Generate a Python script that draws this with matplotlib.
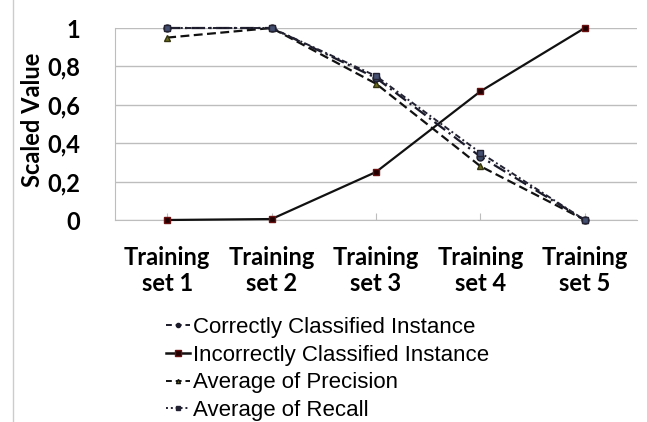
import numpy as np
import matplotlib.pyplot as plt
from matplotlib.lines import Line2D

# data
categories = ["Training\nset 1", "Training\nset 2", "Training\nset 3",
              "Training\nset 4", "Training\nset 5"]
correct = [1.0, 1.0, 0.74, 0.33, 0.0]
incorrect = [0.0, 0.005, 0.25, 0.67, 1.0]
precision = [0.95, 1.0, 0.71, 0.28, 0.0]
recall = [1.0, 1.0, 0.75, 0.35, 0.0]
labels = ["Correctly Classified Instance", "Incorrectly Classified Instance",
          "Average of Precision", "Average of Recall"]
yticks = [0, 0.2, 0.4, 0.6, 0.8, 1]
yticklabels = ["0", "0,2", "0,4", "0,6", "0,8", "1"]

fig = plt.figure(figsize=(6.47, 4.22), dpi=100)
ax = fig.add_axes([115/647, 1 - 220/422, 522/647, 192/422])

x = np.arange(len(categories))
ax.plot(x, correct, color="#1a1a2a", lw=1.6, ls=(0, (6, 2, 1, 2)),
        marker="o", ms=5, mfc="#3a4560", mec="#1a1a2a", zorder=4, clip_on=False)
ax.plot(x, incorrect, color="#111111", lw=1.6, ls="-",
        marker="s", ms=5, mfc="#200000", mec="#6a1010", zorder=3, clip_on=False)
ax.plot(x, precision, color="#111111", lw=1.6, ls=(0, (4, 2)),
        marker="^", ms=4, mfc="#6b6b20", mec="#333310", zorder=3, clip_on=False)
ax.plot(x, recall, color="#222233", lw=1.4, ls=(0, (1, 1.5, 3, 1.5)),
        marker="s", ms=5, mfc="#445070", mec="#222233", zorder=5, clip_on=False)

ax.set_xlim(-0.5, 4.5)
ax.set_ylim(0, 1)
ax.set_yticks(yticks)
ax.set_yticklabels(yticklabels)
ax.set_xticks(x)
ax.set_xticklabels(categories, linespacing=1.12)
ax.yaxis.grid(True, color="#bdbdbd", lw=1)
ax.set_axisbelow(True)
for s in ["top", "right"]:
    ax.spines[s].set_visible(False)
for s in ["left", "bottom"]:
    ax.spines[s].set_color("#bdbdbd")
ax.tick_params(axis="y", length=0, pad=25)
ax.tick_params(axis="x", length=5, color="#bdbdbd", direction="in", pad=19)
for t in ax.get_xticklabels() + ax.get_yticklabels():
    t.set_fontfamily("Lato")
    t.set_fontweight("bold")
    t.set_fontsize(17)
ax.set_ylabel("Scaled Value", fontfamily="Lato", fontweight="bold",
              fontsize=17)
ax.yaxis.set_label_coords(-0.136, 0.52)

handles = [
    Line2D([], [], color="#1a1a2a", lw=1.4, ls=(0, (3, 2)), marker="o", ms=3),
    Line2D([], [], color="#111111", lw=1.8, marker="s", ms=4, mfc="#200000", mec="#6a1010"),
    Line2D([], [], color="#111111", lw=1.4, ls=(0, (3, 2)), marker="^", ms=3, mfc="#6b6b20"),
    Line2D([], [], color="#222233", lw=1.4, ls=(0, (1, 1.5)), marker="s", ms=3),
]
leg = fig.legend(handles, labels, loc="upper left",
                 bbox_to_anchor=(146/647, 1 - 297/422), frameon=False,
                 handlelength=1.1, handletextpad=0.1, labelspacing=0.3,
                 prop={"family": "Liberation Sans", "size": 16})

# faint border line seen at the left of the image
fig.add_artist(Line2D([13/647, 13/647], [0, 1], color="#cccccc", lw=1))

fig.savefig("out.png", dpi=100)
